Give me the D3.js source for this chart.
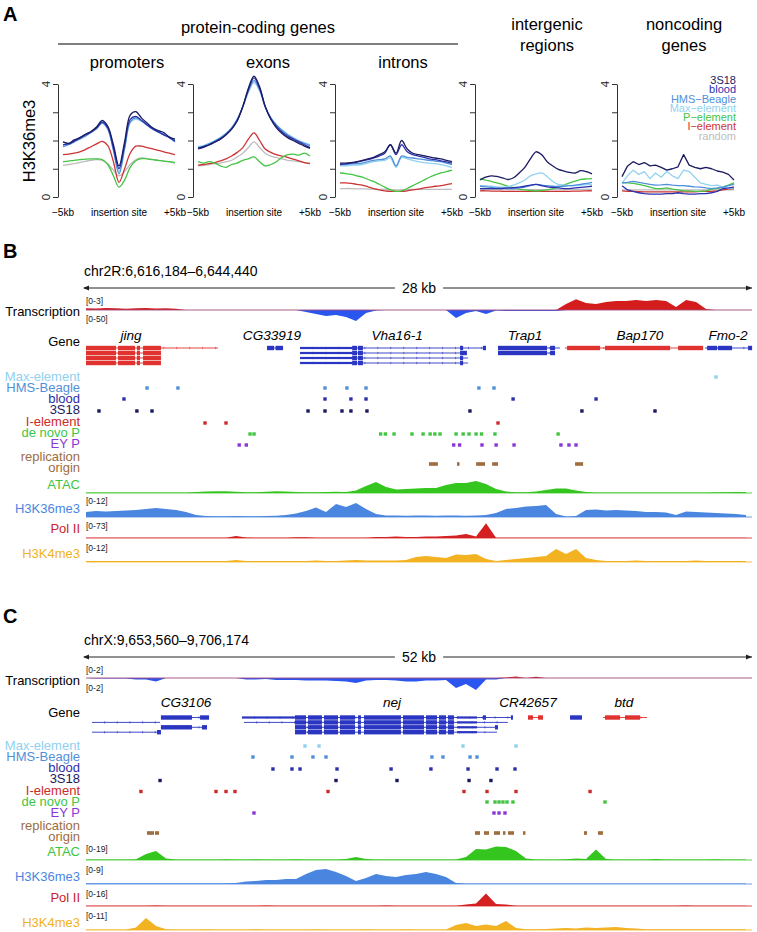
<!DOCTYPE html>
<html>
<head>
<meta charset="utf-8">
<script src="https://cdn.jsdelivr.net/npm/d3@7/dist/d3.min.js"></script>
<style>
html,body{margin:0;padding:0;background:#fff;}
svg{display:block;font-family:"Liberation Sans",Arial,Helvetica,sans-serif;}
</style>
</head>
<body>
<svg id="fig" width="757" height="932"></svg>
<script>
// ================= PANEL A DATA =================
const profileKb = [-5,-4.5,-4,-3.5,-3,-2.5,-2,-1.5,-1,-0.5,0,0.5,1,1.5,2,2.5,3,3.5,4,4.5,5];
const seriesNames = ["3S18","blood","HMS\u2212Beagle","Max\u2212element","P\u2212element","I\u2212element","random"];
const regionTitles = [["promoters"],["exons"],["introns"],["intergenic","regions"],["noncoding","genes"]];
const groupTitle = "protein-coding genes";
const yTicksA = [0,1,2,3,4];
const yTickLabelsA = [0,4];
const xTickLabelsA = ["\u22125kb","insertion site","+5kb"];
const xTickPosA = [-5,0,5];

// order: 3S18, blood, HMS-Beagle, Max-element, P-element, I-element, random
const promoters = [
 [1.95,1.9,2.02,2.1,2.22,2.32,2.48,2.7,2.5,1.85,1.1,1.95,2.9,3.02,2.8,2.62,2.45,2.35,2.28,2.12,2.05],
 [1.85,1.88,1.98,2.08,2.2,2.3,2.45,2.65,2.45,1.75,1.0,1.85,2.75,2.85,2.72,2.55,2.42,2.3,2.2,2.1,1.98],
 [1.78,1.85,1.95,2.05,2.15,2.28,2.42,2.62,2.4,1.65,0.82,1.7,2.65,2.8,2.7,2.55,2.4,2.3,2.2,2.1,1.95],
 [1.95,1.9,1.98,2.08,2.2,2.32,2.48,2.72,2.45,1.7,0.9,1.75,2.65,2.75,2.68,2.55,2.42,2.32,2.22,2.12,2.02],
 [1.25,1.27,1.3,1.32,1.34,1.35,1.35,1.32,1.15,0.75,0.35,0.6,1.05,1.28,1.36,1.35,1.32,1.3,1.27,1.25,1.22],
 [1.5,1.52,1.55,1.6,1.68,1.78,1.88,1.97,1.82,1.25,0.52,1.0,1.55,1.8,1.8,1.75,1.7,1.65,1.6,1.55,1.5],
 [1.12,1.15,1.18,1.22,1.26,1.3,1.32,1.3,1.18,0.95,0.75,0.9,1.15,1.32,1.38,1.36,1.33,1.3,1.27,1.24,1.2]
];
const exons = [
 [1.72,1.78,1.85,1.95,2.05,2.2,2.4,2.7,3.2,3.85,4.28,3.9,3.2,2.75,2.45,2.25,2.1,2.0,1.9,1.8,1.72],
 [1.7,1.76,1.84,1.94,2.05,2.2,2.4,2.7,3.2,3.8,4.22,3.85,3.2,2.78,2.5,2.3,2.15,2.05,1.95,1.85,1.75],
 [1.75,1.8,1.88,1.98,2.1,2.25,2.45,2.75,3.2,3.75,4.12,3.8,3.2,2.8,2.55,2.35,2.2,2.08,1.98,1.9,1.82],
 [1.78,1.82,1.9,2.0,2.1,2.25,2.45,2.75,3.18,3.7,4.05,3.75,3.18,2.8,2.55,2.38,2.22,2.1,2.0,1.92,1.85],
 [1.25,1.2,1.25,1.2,1.1,1.05,1.15,1.2,1.3,1.35,1.42,1.25,1.1,1.15,1.25,1.4,1.5,1.52,1.48,1.55,1.45],
 [1.13,1.15,1.18,1.22,1.28,1.35,1.45,1.58,1.75,2.05,2.27,2.0,1.7,1.58,1.5,1.45,1.4,1.34,1.28,1.22,1.18],
 [1.1,1.12,1.15,1.18,1.2,1.25,1.3,1.42,1.55,1.75,1.95,1.75,1.55,1.45,1.4,1.35,1.3,1.28,1.25,1.22,1.2]
];
const introns = [
 [1.2,1.2,1.22,1.25,1.3,1.35,1.4,1.5,1.6,1.85,1.55,2.0,1.7,1.55,1.5,1.46,1.42,1.38,1.35,1.3,1.25],
 [1.15,1.17,1.2,1.23,1.28,1.32,1.38,1.45,1.55,1.85,1.5,1.85,1.6,1.5,1.45,1.4,1.35,1.32,1.28,1.24,1.2],
 [1.15,1.15,1.17,1.18,1.2,1.25,1.3,1.32,1.35,1.45,1.1,1.45,1.4,1.38,1.35,1.32,1.3,1.27,1.25,1.2,1.15],
 [1.1,1.1,1.12,1.13,1.15,1.2,1.25,1.28,1.3,1.38,1.05,1.4,1.35,1.3,1.25,1.22,1.2,1.18,1.15,1.1,1.05],
 [0.85,0.83,0.8,0.75,0.7,0.62,0.55,0.45,0.35,0.25,0.2,0.22,0.3,0.4,0.5,0.6,0.7,0.78,0.85,0.9,0.95],
 [0.5,0.5,0.48,0.45,0.42,0.36,0.3,0.25,0.22,0.2,0.2,0.2,0.22,0.25,0.28,0.32,0.35,0.38,0.4,0.44,0.47],
 [0.3,0.3,0.3,0.29,0.29,0.28,0.28,0.27,0.27,0.26,0.25,0.26,0.26,0.27,0.27,0.27,0.27,0.27,0.27,0.27,0.27]
];
const intergenic = [
 [0.6,0.7,0.75,0.73,0.68,0.62,0.68,0.85,1.05,1.35,1.6,1.5,1.25,1.1,0.98,0.92,0.87,0.85,0.93,0.9,0.82],
 [0.3,0.3,0.3,0.3,0.3,0.32,0.33,0.35,0.38,0.42,0.45,0.4,0.36,0.34,0.32,0.3,0.3,0.32,0.34,0.36,0.38],
 [0.38,0.36,0.34,0.32,0.32,0.3,0.3,0.32,0.35,0.4,0.45,0.42,0.4,0.38,0.38,0.38,0.4,0.42,0.45,0.48,0.52],
 [0.4,0.4,0.38,0.36,0.35,0.37,0.42,0.5,0.6,0.75,0.82,0.85,0.72,0.55,0.45,0.42,0.4,0.4,0.42,0.44,0.45],
 [0.64,0.6,0.55,0.5,0.45,0.38,0.33,0.28,0.25,0.23,0.22,0.23,0.25,0.3,0.35,0.42,0.5,0.56,0.62,0.64,0.65],
 [0.22,0.22,0.21,0.21,0.2,0.2,0.2,0.2,0.2,0.2,0.2,0.2,0.2,0.2,0.2,0.2,0.2,0.21,0.21,0.22,0.22],
 [0.27,0.27,0.27,0.27,0.26,0.26,0.26,0.26,0.26,0.26,0.26,0.26,0.26,0.26,0.26,0.26,0.27,0.27,0.27,0.27,0.27]
];
const noncoding = [
 [0.72,1.1,1.25,1.15,1.22,1.1,1.13,1.05,0.95,1.0,1.07,1.5,1.13,1.05,1.0,1.05,1.0,0.92,0.88,0.8,0.6],
 [0.4,0.25,0.2,0.15,0.12,0.1,0.1,0.1,0.12,0.12,0.15,0.12,0.1,0.1,0.12,0.12,0.15,0.2,0.3,0.32,0.35],
 [0.5,0.52,0.55,0.52,0.48,0.45,0.42,0.43,0.45,0.42,0.4,0.4,0.38,0.36,0.35,0.32,0.3,0.32,0.35,0.4,0.45],
 [0.5,0.75,0.95,0.8,0.9,0.65,0.85,0.7,0.9,0.75,0.65,0.95,0.9,0.7,0.5,0.45,0.4,0.42,0.35,0.3,0.32],
 [0.5,0.5,0.48,0.45,0.4,0.35,0.3,0.3,0.32,0.28,0.25,0.22,0.22,0.2,0.2,0.22,0.28,0.3,0.35,0.42,0.5],
 [0.22,0.2,0.2,0.19,0.18,0.18,0.18,0.18,0.18,0.18,0.18,0.18,0.18,0.18,0.2,0.2,0.2,0.22,0.25,0.28,0.3],
 [0.25,0.25,0.25,0.25,0.25,0.25,0.25,0.25,0.25,0.25,0.25,0.25,0.25,0.25,0.25,0.25,0.25,0.25,0.25,0.25,0.25]
];
const regionData = [promoters, exons, introns, intergenic, noncoding];

// ================= PANEL B DATA (chr2R:6,616,184-6,644,440) =================
const chromB = "chr2R:6,616,184\u20136,644,440";
const spanKbB = 28.256;
const scaleTextB = "28 kb";
const binKbB = 0.4243;
const txPlusB = [0.4,0.35,0.45,0.4,0.3,0.4,0.45,0.35,0.4,0.3,
 0,0,0,0,0,0,0,0,0,0,0,0,0,0,0,0,0,0,0,0,0,0,0,0,0,0,0,0,0,0,0,0,0,0,0,0,0,0,
 1.4,2.5,1.6,1.4,1.85,2.1,2.1,2.3,2.1,2.3,2.1,0.7,2.3,1.85,0.25,0,0,0,0];
const txMinusB = [0,0,0,0,0,0,0,0,0,0,0,0,0,0,0,0,0,0,0,0,0,0,
 7.7,15,23,19,27,42,11.5,2, 0,0,0,0,0,0,0, 31,11.5,4,15,2, 4,4,4,4,4,4,
 0,0,0,0,0,0,0,0,0,0,0,0,0,0,0,0,0,0,0];
const atacB = [0.5,0.5,0.5,0.5,0.5,0.5,0.5,0.5,0.5,0.5,0.5,
 1.0,1.5,1.8,1.8,1.2,0.8,0.8,1.2,1.8,1.5,
 1.0,0.8,0.8,1.0,1.2,1.0,2.5,7,11,6,
 3.5,4,4.5,5,5,8,10,10,12,9,
 4,1.5,0.8,0.8,1.5,3,4.5,4.5,2.5,1,
 0.5,0.5,0.5,0.5,0.5,0.5,0.5,0.5,0.5,0.5,0.5,0.5,0.8,0.8,1,1];
const h3k36B = [3.75,4.5,4.1,4.5,4.9,5.25,6,6.75,6,5.25,
 3.75,1.5,0.75,0.6,0.6,0.75,0.6,0.6,0.75,0.9,
 1.5,2.6,4.5,7.1,3.75,9.75,7.5,10.5,6,2.25,
 1.1,1.1,0.9,1.1,1.1,0.9,1.1,1.1,0.9,1.1,
 1.5,3,6,6.75,7.9,8.25,9,2.25,0.4,0.75,
 5.25,5.6,4.9,5.25,4.9,4.5,3.75,3.75,3.4,1.5,
 4.1,3.75,3.4,3,2.6,2.25,1.5];
const polIIB = [1.5,1.5,1.5,1.5,1.5,1.5,1.5,1.5,1.5,1.5,1.5,1.5,1.5,1.5,1.5, 9,2,
 1.5,1.5,1.5,1.5,3,3,1.5,1.5,1.5,1.5,1.5,1.5,
 4.5,4.5,7,4.5,4.5,7,7,9,11,18,7,67,1.5,
 1.2,1.2,1.2,1.2,1.2,1.2,1.2,1.2,1.2,1.2,1.2,1.2,1.2,1.2,1.2,1.2,1.2,1.2,1.2,1.2,1.2,1.2,1.2,1.2,1.2];
const h3k4B = [0.75,0.75,0.75,0.75,0.75,0.75,0.75,0.75,0.75,0.75,0.75,0.75,0.75,0.75,0.75, 1.5,
 0.75,0.75,0.75,0.75,0.75,0.75,0.75, 1.1, 0.75,0.75, 1.1,1.5,1.1,
 1.1,1.1,1.1,1.5,3.75,4.5,3.75,3,5.6,5.25,6,2.25,0.75,1.5,2.25,3,3.75,4.5,9.75,6,9.75,3,1.5,
 0.75,0.75,0.75,1.1,0.75,0.75,0.75,0.75,0.75,1.1,0.75,0.75,0.75,0.75,0.75];
const genesB = [
 {name:"jing", strand:"+", labelKb:1.91, tx:[
   {row:0, span:[0,5.60], exons:[[0,1.27],[1.36,2.08],[2.16,2.29],[2.42,3.18]]},
   {row:1, span:[0,3.18], exons:[[0,1.27],[1.36,2.08],[2.16,2.29],[2.42,3.18]]},
   {row:2, span:[0,3.18], exons:[[0,1.27],[1.36,2.08],[2.16,2.29],[2.42,3.18]]},
   {row:3, span:[0,3.18], exons:[[0,1.27],[1.36,2.08],[2.16,2.29],[2.42,3.18]]}]},
 {name:"CG33919", strand:"-", labelKb:7.89, tx:[
   {row:0, span:[7.68,8.36], exons:[[7.68,7.98],[8.04,8.36]]}]},
 {name:"Vha16-1", strand:"-", labelKb:13.2, tx:[
   {row:0, span:[9.08,16.93], utr:[[9.08,11.29]], exons:[[11.29,11.50],[11.54,11.75],[15.87,16.0],[16.84,16.97]]},
   {row:1, span:[9.08,16.16], utr:[[9.08,11.29]], exons:[[11.29,11.50],[11.54,11.75],[15.87,16.16]]},
   {row:2, span:[9.08,16.21], utr:[[9.08,11.29]], exons:[[11.29,11.50],[11.54,11.75],[15.87,16.0]]},
   {row:3, span:[9.08,16.21], utr:[[9.08,11.29]], exons:[[11.29,11.50],[11.54,11.75],[15.87,16.0]]}]},
 {name:"Trap1", strand:"-", labelKb:18.63, tx:[
   {row:0, span:[17.48,20.11], exons:[[17.48,19.56],[19.69,19.90]]},
   {row:1, span:[17.48,19.90], exons:[[17.48,19.56],[19.69,19.90]]}]},
 {name:"Bap170", strand:"+", labelKb:23.5, tx:[
   {row:0, span:[20.32,26.18], exons:[[20.41,21.81],[22.02,24.78],[25.12,26.18]]}]},
 {name:"Fmo-2", strand:"-", labelKb:27.24, tx:[
   {row:0, span:[26.26,28.26], exons:[[26.35,26.77],[26.81,27.41],[28.09,28.26]]}]}
];
const maxB = [26.73];
const hmsB = [2.59,3.90,10.14,11.07,11.88,16.67,17.31];
const bloodB = [1.61,10.14,11.24,11.88,18.12,21.64];
const s3s18B = [0.55,2.16,2.80,9.42,10.14,10.86,11.24,11.92,16.29,21.04,24.14];
const iElemB = [5.05,5.94,17.48];
const deNovoB = [6.96,7.13,12.50,12.70,13.07,13.83,14.30,14.60,14.80,15.02,15.70,16.00,16.25,16.55,16.78,17.35,20.03];
const eyB = [6.5,6.8,15.6,15.85,16.80,17.40,18.16,20.15,20.49,20.79];
const originB = [[14.55,14.93],[15.74,15.83],[16.55,16.93],[17.23,17.48],[20.75,21.09]];

// ================= PANEL C DATA (chrX:9,653,560-9,706,174) =================
const chromC = "chrX:9,653,560\u20139,706,174";
const spanKbC = 52.614;
const scaleTextC = "52 kb";
const binKbC = 0.79;
const txPlusC = [0,0,0,0,0,0,0,0,0,0,0,0,0,0,0,0,0,0,0,0,0,0,0,0,0,0,0,0,0,0,0,0,0,0,0,0,0,0,0,0,0,0,
 0.07,0.21,0,0.17, 0,0,0,0,0,0,0,0,0,0,0,0,0,0,0,0,0,0,0,0,0];
const txMinusC = [0,0.07,0.07,0.07,0.07,0.21,0.21,0.5, 0,0,0,0,0,0,0,0,
 0.21,0.21,0.14,0.29,0.29,0.29,0.36,0.36,0.36,0.43,0.5,0.71,0.36,0.29,0.29,0.36,0.5,0.5,0.36,0.36,0.29,1.43,0.86,1.71,0.21,0.21,
 0,0,0,0,0,0,0,0,0,0,0,0,0,0,0,0,0,0,0,0,0,0,0,0,0];
const atacC = [0.6,0.6,0.6,0.6,0.6, 0.95,7.1,10.7,1.8,0.6, 0.6,0.6,0.6,0.6,0.95, 0.6,0.6,0.95,0.6,0.6,
 0.6,0.95,0.6,0.6,0.6, 0.6,1.2,3.6,1.2,0.6, 0.6,0.6,0.6,0.6,0.6, 0.6,0.6,0.6,3.6,13.1,
 12.5,16,15.5,10.7,1.8, 0.6,0.6,0.6,0.95,1.8, 1.2,12.5,1.2,0.6,0.6, 0.6,0.6,1.2,0.6,0.6,
 0.6,0.6,0.6,0.95,0.6, 0.6,0.6];
const h3k36C = [0.4,0.4,0.4,0.4,0.4,0.4,0.4,0.4,0.4,0.4,0.4,0.4,0.4,0.4,0.4,
 0.55,1.4,1.7,2.25,2.25,2.8,2.8,5.6,7.9,8.4,6.75,4.5,1.7,3.4,5.6,4.5,3.9,5.1,5.6,6.75,5.6,3.9,0.55,
 0.3,0.3,0.3,0.3,0.3,0.3,0.3,0.3,0.3,0.3,0.3,0.3,0.3,0.3,0.3,0.3,0.3,0.3,0.3,0.3,0.3,0.3,0.3,0.3,0.3,0.3,0.3,0.3,0.3];
const polIIC = [0.3,0.3,0.3,0.3,0.3,0.3,0.3,0.6,0.3,0.3,0.3,0.3,0.3,0.3,0.3,0.3,0.3,0.3,0.5,0.3,
 0.3,0.3,0.3,0.3,0.3,0.3,0.3,0.3,0.3,0.3,0.5,0.3,0.3,0.3,0.3,0.3,0.3,0.3,
 1.5,2.5,12.5,2,1.5,
 0.3,0.3,0.3,0.3,0.3,0.3,0.3,0.3,0.3,0.3,0.3,0.3,0.3,0.3,0.3,0.3,0.3,0.5,0.3,0.3,0.3,0.3,0.3,0.3];
const h3k4C = [0.35,0.35,0.35,0.35,0.35, 1.7,8.25,2.75,0.55,
 0.4,0.4,0.4,0.55,0.4,0.4,0.4,0.4,0.55,0.4,0.4,0.4,0.4,0.4,0.55,0.4,0.4,0.4,0.4,0.55,0.4,0.4,0.4,0.55,0.4,0.4,0.4,0.4,
 3.4,4.8,2.75,3.8,2.75,6.2,1.4,0.55,0.55,0.7,1.0,1.4,1.0,1.7,1.4,1.7,2.1,1.4,1.0,
 0.55,0.55,0.55,0.55,0.55,0.55,0.55,0.55,0.55,0.55,0.55];
const nejExons = [[16.51,17.38],[17.54,18.64],[18.80,19.91],[20.06,21.25],[21.49,21.72],[21.96,24.88],[25.04,26.70],[26.86,27.73],[27.88,28.44],[28.59,29.07]];
const genesC = [
 {name:"CG3106", strand:"-", labelKb:7.9, tx:[
   {row:0, span:[5.92,9.72], exons:[[5.92,8.37],[9.01,9.72]]},
   {row:1, span:[0.47,5.85], exons:[]},
   {row:2, span:[5.92,9.56], exons:[[5.92,8.37],[9.16,9.56]]},
   {row:3, span:[0.47,5.92], exons:[[5.61,5.92]]}]},
 {name:"nej", strand:"-", labelKb:24.17, tx:[
   {row:0, span:[12.32,33.73], utr:[[12.32,16.51],[29.31,30.89]], exons:nejExons.concat([[31.36,31.60],[33.57,33.73]])},
   {row:1, span:[12.48,33.33], utr:[[29.31,30.89]], exons:nejExons},
   {row:2, span:[16.51,32.54], utr:[[29.31,30.89]], exons:nejExons.concat([[32.31,32.54]])},
   {row:3, span:[16.51,32.47], utr:[[29.31,30.89]], exons:nejExons}]},
 {name:"CR42657", strand:"+", labelKb:34.92, tx:[
   {row:0, span:[34.92,36.10], exons:[[34.92,35.31],[35.71,36.10]]}]},
 {name:"", strand:"-", labelKb:38.7, tx:[
   {row:0, span:[38.24,39.18], exons:[[38.24,39.18]]}]},
 {name:"btd", strand:"+", labelKb:42.5, tx:[
   {row:0, span:[40.84,44.32], exons:[[41.0,42.19],[42.58,43.77]]}]}
];
const maxC = [17.30,18.41,29.78,33.97];
const hmsC = [13.19,16.27,17.93,18.96,27.33,28.20,30.34,30.89];
const bloodC = [14.77,16.27,16.91,19.83,24.10,27.25,30.18,32.47,33.89];
const s3s18C = [5.85,19.75,24.57,30.26,31.99];
const iElemC = [4.34,10.27,11.06,11.77,19.12,29.86,31.68,33.97,39.82];
const deNovoC = [31.68,32.31,32.63,32.94,33.26,33.73,41.00];
const eyC = [13.27,32.23,32.63,33.10];
const originC = [[4.82,5.37],[5.45,5.77],[30.73,31.13],[31.44,31.84],[32.23,32.71],[32.94,33.10],[33.34,33.81],[34.52,34.68],[39.34,39.58],[40.45,40.84]];

// ================= STYLES =================
const seriesColors = ["#1b1b62","#2b30ad","#4f8fdb","#92d2f0","#45c545","#cc3535","#bdbdbd"];
const C = {
  max:"#8fd1ef", hms:"#5190d8", blood:"#2c2fa8", s3s18:"#1a1a5e", iel:"#cc2b2b",
  denovo:"#43c443", ey:"#8b36d6", origin:"#9c6d3d", atac:"#35c51f", h3k36:"#4a86e0",
  pol:"#d42020", h3k4:"#f2b222", geneRed:"#e0322e", geneBlue:"#2a36c2",
  txRed:"#d41c1c", txBlue:"#2a55ee"
};
const LABEL_FS = 13;
const svg = d3.select("#fig");

// ================= PANEL A =================
(function(){
  const g = svg.append("g");
  g.append("text").text("A").attr("x",3).attr("y",21).attr("font-size",20).attr("font-weight","bold");
  g.append("text").text(groupTitle).attr("x",258).attr("y",33).attr("text-anchor","middle").attr("font-size",16.5);
  g.append("line").attr("x1",58).attr("x2",458).attr("y1",44).attr("y2",44).attr("stroke","#000").attr("stroke-width",1.2);
  g.append("text").text("H3K36me3").attr("transform","translate(35,141) rotate(-90)")
    .attr("text-anchor","middle").attr("font-size",16.5);
  const axisXs = [58,193,335,475,617];
  const titleXs = [127,268,403,547,684];
  const yA = d3.scaleLinear().domain([0,4]).range([197,84]);
  regionData.forEach((series,k)=>{
    const ax = axisXs[k];
    const x = d3.scaleLinear().domain([-5,5]).range([ax+5, ax+117]);
    const pg = g.append("g");
    const axG = pg.append("g").attr("transform",`translate(${ax},0)`)
      .call(d3.axisLeft(yA).tickValues(yTicksA).tickSize(5).tickSizeOuter(0).tickFormat(""));
    axG.select(".domain").attr("stroke","#333").attr("stroke-width",1);
    axG.selectAll(".tick line").attr("stroke","#333");
    yTickLabelsA.forEach(v=>{
      pg.append("text").text(v).attr("transform",`translate(${ax-8},${yA(v)}) rotate(-90)`)
        .attr("text-anchor","middle").attr("font-size",11.5).attr("fill","#222");
    });
    const tl = regionTitles[k];
    tl.forEach((t,j)=>{
      const ty = tl.length===1 ? 68 : 30 + j*21;
      pg.append("text").text(t).attr("x",titleXs[k]).attr("y",ty).attr("text-anchor","middle").attr("font-size",16.5);
    });
    xTickLabelsA.forEach((t,j)=>{
      pg.append("text").text(t).attr("x",x(xTickPosA[j])).attr("y",216).attr("text-anchor","middle").attr("font-size",10);
    });
    const line = d3.line().x((d,i)=>x(profileKb[i])).y(d=>yA(d))
      .curve(k<4 ? d3.curveCatmullRom.alpha(0.5) : d3.curveLinear);
    for(let s=series.length-1;s>=0;s--){
      pg.append("path").datum(series[s]).attr("d",line).attr("fill","none")
        .attr("stroke",seriesColors[s]).attr("stroke-width",1.3).attr("stroke-linejoin","round");
    }
    if(k===4){
      seriesNames.forEach((n,s)=>{
        pg.append("text").text(n).attr("x",736).attr("y",84+s*9.25).attr("text-anchor","end")
          .attr("font-size",11).attr("fill",seriesColors[s]);
      });
    }
  });
})();

// ================= BROWSER PANELS =================
function drawBrowser(cfg){
  const g = svg.append("g");
  const x = d3.scaleLinear().domain([0,cfg.span]).range([86,752]);
  g.append("text").text(cfg.letter).attr("x",3).attr("y",cfg.letterY).attr("font-size",20).attr("font-weight","bold");
  g.append("text").text(cfg.chrom).attr("x",84).attr("y",cfg.chromY).attr("font-size",14);
  // scale bar
  const sy = cfg.scaleY, mid = x(cfg.span/2);
  const st = g.append("text").text(cfg.scaleText).attr("x",mid).attr("y",sy+4.5).attr("text-anchor","middle").attr("font-size",14);
  const half = st.node().getComputedTextLength()/2 + 7;
  g.append("line").attr("x1",x(0)-2).attr("x2",mid-half).attr("y1",sy).attr("y2",sy).attr("stroke","#222").attr("stroke-width",1);
  g.append("line").attr("x1",mid+half).attr("x2",x(cfg.span)).attr("y1",sy).attr("y2",sy).attr("stroke","#222").attr("stroke-width",1);
  g.append("path").attr("d",`M${x(0)-3},${sy} l6,-2.6 l0,5.2 z`).attr("fill","#222");
  g.append("path").attr("d",`M${x(cfg.span)},${sy} l-6,-2.6 l0,5.2 z`).attr("fill","#222");

  const lab = (t,y,col)=> g.append("text").text(t).attr("x",80).attr("y",y).attr("text-anchor","end").attr("font-size",LABEL_FS).attr("fill",col||"#000");
  const small = (t,y)=> g.append("text").text(t).attr("x",86).attr("y",y).attr("font-size",8.5).attr("fill","#222");

  // transcription
  const T = cfg.tx;
  lab("Transcription", T.labelY);
  small(T.upLabel, T.upLabelY); small(T.downLabel, T.downLabelY);
  const yUp = d3.scaleLinear().domain([0,T.upMax]).range([0,T.h]);
  const yDn = d3.scaleLinear().domain([0,T.downMax]).range([0,T.h]);
  const areaUp = d3.area().x((d,i)=>x(i*cfg.bin)).y0(T.base).y1(d=>T.base-yUp(d));
  const areaDn = d3.area().x((d,i)=>x(i*cfg.bin)).y0(T.base).y1(d=>T.base+yDn(d));
  g.append("path").datum(T.down).attr("d",areaDn).attr("fill",C.txBlue);
  g.append("path").datum(T.up).attr("d",areaUp).attr("fill",C.txRed);
  g.append("line").attr("x1",x(0)).attr("x2",x(cfg.span)).attr("y1",T.base).attr("y2",T.base).attr("stroke","#a24a80").attr("stroke-width",0.9);

  // genes
  lab("Gene", cfg.geneY);
  cfg.genes.forEach(gn=>{
    const col = gn.strand==="+" ? C.geneRed : C.geneBlue;
    if(gn.name) g.append("text").text(gn.name).attr("x",x(gn.labelKb)).attr("y",cfg.geneNameY)
      .attr("text-anchor","middle").attr("font-size",13.6).attr("font-style","italic");
    gn.tx.forEach(t=>{
      const y = cfg.rowY0 + t.row*cfg.rowStep;
      g.append("line").attr("x1",x(t.span[0])).attr("x2",x(t.span[1])).attr("y1",y).attr("y2",y).attr("stroke",col).attr("stroke-width",0.9);
      for(let p=t.span[0]+cfg.tickKb; p<t.span[1]; p+=cfg.tickKb){
        g.append("line").attr("x1",x(p)).attr("x2",x(p)).attr("y1",y-1.2).attr("y2",y+1.2).attr("stroke",col).attr("stroke-width",0.6);
      }
      (t.utr||[]).forEach(u=>{
        g.append("rect").attr("x",x(u[0])).attr("y",y-1.1).attr("width",Math.max(1,x(u[1])-x(u[0]))).attr("height",2.2).attr("fill",col);
      });
      t.exons.forEach(e=>{
        g.append("rect").attr("x",x(e[0])).attr("y",y-2.2).attr("width",Math.max(1.2,x(e[1])-x(e[0]))).attr("height",4.4).attr("fill",col);
      });
    });
  });

  // insertion tracks
  cfg.marks.forEach(m=>{
    m.labels.forEach((t,j)=>lab(t, m.labelY[j], m.color));
    m.pos.forEach(p=>{
      g.append("rect").attr("x",x(p)-1.7).attr("y",m.y-1.7).attr("width",3.4).attr("height",3.4).attr("fill",m.color);
    });
    (m.ranges||[]).forEach(r=>{
      const w = Math.max(2.5, x(r[1])-x(r[0]));
      g.append("rect").attr("x",x(r[0])).attr("y",m.y-1.8).attr("width",w).attr("height",3.6).attr("fill",m.color);
    });
  });

  // signal tracks
  cfg.signals.forEach(s=>{
    lab(s.name, s.labelY, s.labelColor);
    if(s.scaleLabel) small(s.scaleLabel, s.scaleLabelY);
    const yS = d3.scaleLinear().domain([0,s.max]).range([0,16]);
    const area = d3.area().x((d,i)=>x(i*cfg.bin)).y0(s.base).y1(d=>s.base-yS(d));
    g.append("line").attr("x1",x(0)).attr("x2",x(cfg.span)).attr("y1",s.base).attr("y2",s.base).attr("stroke",s.color).attr("stroke-width",0.8);
    g.append("path").datum(s.vals).attr("d",area).attr("fill",s.color);
  });
}

drawBrowser({
  letter:"B", letterY:258, chrom:chromB, chromY:276, span:spanKbB, bin:binKbB, scaleY:288, scaleText:scaleTextB,
  tx:{base:310, h:13, up:txPlusB, down:txMinusB, upMax:3, downMax:50, upLabel:"[0-3]", downLabel:"[0-50]",
      upLabelY:303.5, downLabelY:321.5, labelY:315.5},
  geneY:346, geneNameY:340, rowY0:348, rowStep:5, tickKb:0.55, genes:genesB,
  marks:[
    {labels:["Max-element"], labelY:[381], y:377, color:C.max, pos:maxB},
    {labels:["HMS-Beagle"], labelY:[392], y:388, color:C.hms, pos:hmsB},
    {labels:["blood"], labelY:[403], y:399, color:C.blood, pos:bloodB},
    {labels:["3S18"], labelY:[414], y:411, color:C.s3s18, pos:s3s18B},
    {labels:["I-element"], labelY:[425.5], y:423, color:C.iel, pos:iElemB},
    {labels:["de novo P"], labelY:[436.5], y:434, color:C.denovo, pos:deNovoB},
    {labels:["EY P"], labelY:[447.5], y:445, color:C.ey, pos:eyB},
    {labels:["replication","origin"], labelY:[460.5,471.5], y:464, color:C.origin, pos:[], ranges:originB}
  ],
  signals:[
    {name:"ATAC", labelY:489, labelColor:"#3dc43d", base:493, max:16, color:C.atac, vals:atacB},
    {name:"H3K36me3", labelY:513, labelColor:C.h3k36, base:517, max:12, color:C.h3k36, vals:h3k36B, scaleLabel:"[0-12]", scaleLabelY:504},
    {name:"Pol II", labelY:533, labelColor:"#c8222a", base:538, max:73, color:C.pol, vals:polIIB, scaleLabel:"[0-73]", scaleLabelY:529},
    {name:"H3K4me3", labelY:557.5, labelColor:C.h3k4, base:562, max:12, color:C.h3k4, vals:h3k4B, scaleLabel:"[0-12]", scaleLabelY:551}
  ]
});

drawBrowser({
  letter:"C", letterY:623, chrom:chromC, chromY:645, span:spanKbC, bin:binKbC, scaleY:657, scaleText:scaleTextC,
  tx:{base:678, h:14, up:txPlusC, down:txMinusC, upMax:2, downMax:2, upLabel:"[0-2]", downLabel:"[0-2]",
      upLabelY:673, downLabelY:691, labelY:685},
  geneY:716.5, geneNameY:707, rowY0:717.5, rowStep:4.9, tickKb:1.0, genes:genesC,
  marks:[
    {labels:["Max-element"], labelY:[749.5], y:746, color:C.max, pos:maxC},
    {labels:["HMS-Beagle"], labelY:[761], y:757, color:C.hms, pos:hmsC},
    {labels:["blood"], labelY:[772], y:769, color:C.blood, pos:bloodC},
    {labels:["3S18"], labelY:[783], y:780.5, color:C.s3s18, pos:s3s18C},
    {labels:["I-element"], labelY:[795], y:791.5, color:C.iel, pos:iElemC},
    {labels:["de novo P"], labelY:[806], y:802, color:C.denovo, pos:deNovoC},
    {labels:["EY P"], labelY:[817], y:813, color:C.ey, pos:eyC},
    {labels:["replication","origin"], labelY:[830,841], y:833, color:C.origin, pos:[], ranges:originC}
  ],
  signals:[
    {name:"ATAC", labelY:856, labelColor:"#3dc43d", base:860, max:19, color:C.atac, vals:atacC, scaleLabel:"[0-19]", scaleLabelY:852},
    {name:"H3K36me3", labelY:881, labelColor:C.h3k36, base:884, max:9, color:C.h3k36, vals:h3k36C, scaleLabel:"[0-9]", scaleLabelY:873},
    {name:"Pol II", labelY:902, labelColor:"#c8222a", base:906, max:16, color:C.pol, vals:polIIC, scaleLabel:"[0-16]", scaleLabelY:897},
    {name:"H3K4me3", labelY:927, labelColor:C.h3k4, base:930, max:11, color:C.h3k4, vals:h3k4C, scaleLabel:"[0-11]", scaleLabelY:919}
  ]
});
</script>
</body>
</html>
